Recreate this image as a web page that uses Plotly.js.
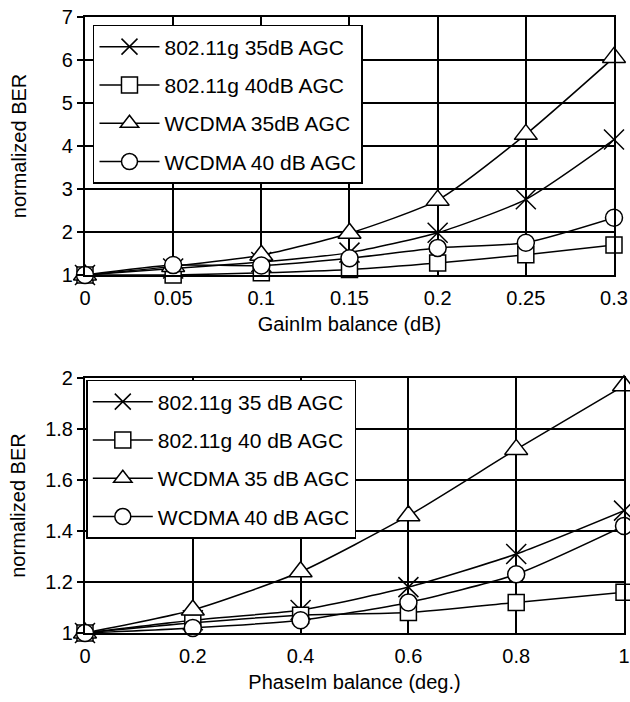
<!DOCTYPE html>
<html>
<head>
<meta charset="utf-8">
<script src="https://cdn.plot.ly/plotly-3.0.1.min.js"></script>
<style>html,body{margin:0;padding:0;background:#fff;}#chart{width:630px;height:702px;}</style>
</head>
<body>
<div id="chart"></div>
<script>
// Top chart: gain imbalance
const gainX = [0, 0.05, 0.1, 0.15, 0.2, 0.25, 0.3];
const gain_wlan35 = [1, 1.15, 1.3, 1.52, 1.98, 2.76, 4.15];
const gain_wlan40 = [1, 1.0, 1.05, 1.13, 1.28, 1.47, 1.7];
const gain_wcdma35 = [1, 1.2, 1.46, 1.97, 2.74, 4.27, 6.06];
const gain_wcdma40 = [1, 1.23, 1.22, 1.39, 1.63, 1.75, 2.33];
const gainTickVals = [0, 0.05, 0.1, 0.15, 0.2, 0.25, 0.3];
const gainTickText = ["0", "0.05", "0.1", "0.15", "0.2", "0.25", "0.3"];
const gainLegend = ["802.11g 35dB AGC", "802.11g 40dB AGC", "WCDMA 35dB AGC", "WCDMA 40 dB AGC"];

// Bottom chart: phase imbalance
const phaseX = [0, 0.2, 0.4, 0.6, 0.8, 1];
const phase_wlan35 = [1, 1.05, 1.09, 1.18, 1.31, 1.48];
const phase_wlan40 = [1, 1.04, 1.07, 1.08, 1.12, 1.16];
const phase_wcdma35 = [1, 1.09, 1.24, 1.46, 1.72, 1.97];
const phase_wcdma40 = [1, 1.02, 1.05, 1.12, 1.23, 1.42];
const phaseTickVals = [0, 0.2, 0.4, 0.6, 0.8, 1];
const phaseTickText = ["0", "0.2", "0.4", "0.6", "0.8", "1"];
const phaseLegend = ["802.11g 35 dB AGC", "802.11g 40 dB AGC", "WCDMA 35 dB AGC", "WCDMA 40 dB AGC"];

const FONT = "Liberation Sans, Arial, sans-serif";
const symbols = [
  {symbol: "x-thin-open", size: 20, color: "#000"},
  {symbol: "square", size: 16, color: "#fff"},
  {symbol: "triangle-up", size: 20, color: "#fff"},
  {symbol: "circle", size: 17, color: "#fff"}
];

function mk(x, y, name, i, xa, ya, leg) {
  return {
    x: x, y: y, name: name, type: "scatter", mode: "lines+markers",
    xaxis: xa, yaxis: ya, legend: leg, legendgroup: leg + i,
    cliponaxis: false,
    line: {color: "#000", width: 1.5, shape: "spline", smoothing: 0.6},
    marker: {symbol: symbols[i].symbol, size: symbols[i].size, color: symbols[i].color,
             line: {color: "#000", width: 1.5}}
  };
}

const data = [
  mk(gainX, gain_wlan35, gainLegend[0], 0, "x", "y", "legend"),
  mk(gainX, gain_wlan40, gainLegend[1], 1, "x", "y", "legend"),
  mk(gainX, gain_wcdma35, gainLegend[2], 2, "x", "y", "legend"),
  mk(gainX, gain_wcdma40, gainLegend[3], 3, "x", "y", "legend"),
  mk(phaseX, phase_wlan35, phaseLegend[0], 0, "x2", "y2", "legend2"),
  mk(phaseX, phase_wlan40, phaseLegend[1], 1, "x2", "y2", "legend2"),
  mk(phaseX, phase_wcdma35, phaseLegend[2], 2, "x2", "y2", "legend2"),
  mk(phaseX, phase_wcdma40, phaseLegend[3], 3, "x2", "y2", "legend2")
];

const axisCommon = {
  showline: true, linecolor: "#000", linewidth: 2, mirror: true,
  showgrid: true, gridcolor: "#000", gridwidth: 2,
  zeroline: false,
  tickfont: {family: FONT, size: 20, color: "#000"}
};
const xCommon = Object.assign({}, axisCommon, {ticks: "", ticklabelstandoff: 4});
const yCommon = Object.assign({}, axisCommon, {ticks: "outside", ticklen: 6, tickwidth: 1.5, tickcolor: "#000"});

const legendCommon = {
  bgcolor: "#fff", bordercolor: "#000", borderwidth: 1.5,
  font: {family: FONT, size: 21, color: "#000"},
  xanchor: "left", yanchor: "top", tracegroupgap: 8, itemwidth: 60
};

const layout = {
  width: 630, height: 702,
  margin: {l: 0, r: 0, t: 0, b: 0},
  paper_bgcolor: "#fff", plot_bgcolor: "#fff",
  showlegend: true,
  xaxis: Object.assign({}, xCommon, {
    domain: [0.1349, 0.9746], anchor: "y", range: [0, 0.3],
    tickvals: gainTickVals, ticktext: gainTickText,
    title: {text: "GainIm balance (dB)", font: {family: FONT, size: 20, color: "#000"}, standoff: 9}
  }),
  yaxis: Object.assign({}, yCommon, {
    domain: [0.6083, 0.9758], anchor: "x", range: [1, 7], dtick: 1,
    title: {text: "normalized BER", font: {family: FONT, size: 20, color: "#000"}, standoff: 30}
  }),
  xaxis2: Object.assign({}, xCommon, {
    domain: [0.1349, 0.9905], anchor: "y2", range: [0, 1],
    tickvals: phaseTickVals, ticktext: phaseTickText,
    title: {text: "PhaseIm balance (deg.)", font: {family: FONT, size: 20, color: "#000"}, standoff: 9}
  }),
  yaxis2: Object.assign({}, yCommon, {
    domain: [0.0983, 0.4615], anchor: "x2", range: [1, 2], dtick: 0.2,
    tickformat: ".1~f",
    title: {text: "normalized BER", font: {family: FONT, size: 20, color: "#000"}, standoff: 14}
  }),
  legend: Object.assign({}, legendCommon, {x: 0.1476, y: 0.9644}),
  legend2: Object.assign({}, legendCommon, {x: 0.137, y: 0.4587})
};

Plotly.newPlot("chart", data, layout, {displayModeBar: false, staticPlot: true});
</script>
</body>
</html>
